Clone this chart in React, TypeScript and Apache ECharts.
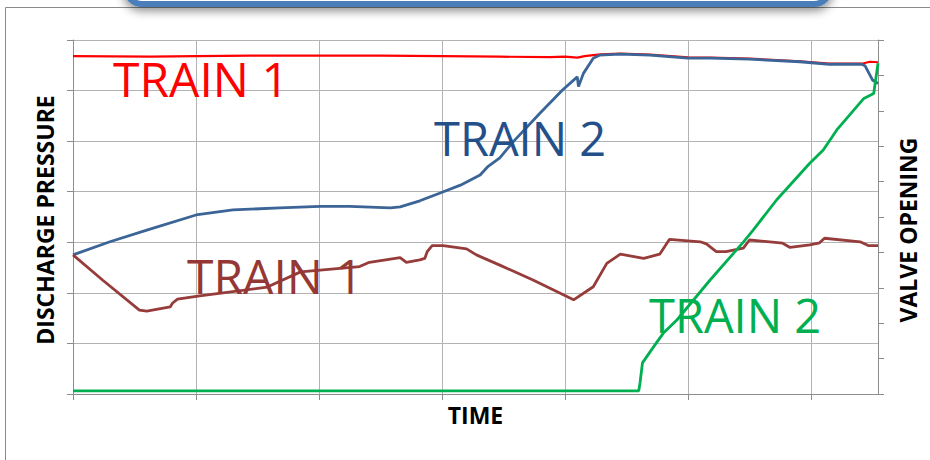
import React, { useEffect, useRef } from "react";
import * as echarts from "echarts";

// Time axis: one grid column = 10 time units; the plot ends part-way into the 7th column.
const TIME_MAX = 65.45;
const PRESSURE_MAX = 70;
const VALVE_MAX = 100;
const timeTicks = [0, 10, 20, 30, 40, 50, 60];

const axisTitles = ["TIME", "DISCHARGE PRESSURE", "VALVE OPENING"];
const seriesNames = ["TRAIN 1", "TRAIN 2"];

// Discharge pressure, train 1 (left axis)
const train1Pressure: [number, number][] = [
  [0, 66.8], [6.3, 66.7], [10, 66.8], [14.4, 66.9], [20, 66.9], [25, 66.9],
  [30, 66.8], [34.7, 66.7], [38.8, 66.6], [40, 66.7], [41, 66.5], [41.6, 66.8],
  [42.3, 67.0], [42.9, 67.15], [44.5, 67.3], [46.9, 67.1], [50, 66.55], [51.8, 66.5],
  [55, 66.3], [59.1, 65.8], [61.5, 65.35], [64.2, 65.35], [64.8, 65.7], [65.45, 65.6],
];

// Discharge pressure, train 2 (left axis)
const train2Pressure: [number, number][] = [
  [0, 27.5], [3, 30.1], [6, 32.4], [10, 35.4], [13, 36.4], [16.8, 36.8],
  [20.1, 37.1], [22.5, 37.1], [25.8, 36.8], [26.6, 37.0], [28.2, 38.2], [29.8, 39.7],
  [31.5, 41.3], [33.1, 43.3], [33.7, 44.9], [34.7, 46.7], [35.8, 49.9], [38.0, 55.6],
  [39.8, 60.1], [41.0, 62.7], [41.1, 60.8], [41.5, 63.4], [42.3, 66.4], [42.8, 67.0],
  [44.5, 67.2], [46.9, 67.0], [50, 66.4], [51.8, 66.4], [55, 66.2], [59.1, 65.7],
  [61.5, 65.2], [64.1, 65.2], [64.4, 64.9], [65.0, 62.1], [65.45, 61.4],
];

// Valve opening, train 1 (right axis)
const train1Valve: [number, number][] = [
  [0, 39.3], [2.4, 32.2], [5.4, 23.7], [6.0, 23.4], [7.9, 24.6], [8.1, 25.7],
  [8.5, 26.8], [10.3, 27.7], [15.8, 30.2], [18.5, 34.5], [20.1, 35.0], [23.3, 36.0],
  [24.1, 37.2], [26.6, 38.5], [27.1, 37.2], [28.2, 37.9], [28.6, 38.3], [28.8, 40.2],
  [29.2, 41.9], [30.1, 41.9], [32.0, 41.0], [32.8, 39.3], [34.7, 36.4], [37.4, 32.2],
  [40.7, 26.6], [42.3, 30.3], [43.4, 36.9], [44.5, 39.5], [46.4, 38.3], [47.7, 39.5],
  [48.5, 43.7], [51.0, 43.0], [51.5, 42.4], [52.3, 40.2], [53.1, 40.2], [54.5, 41.2],
  [55.0, 43.5], [57.7, 42.6], [58.3, 41.4], [59.9, 42.1], [60.7, 42.7], [61.1, 44.0],
  [64.0, 43.0], [64.7, 41.9], [65.45, 41.9],
];

// Valve opening, train 2 (right axis)
const train2Valve: [number, number][] = [
  [0, 0.9], [46.0, 0.9], [46.1, 3.1], [46.3, 8.8], [47.2, 13.3], [48.0, 17.2],
  [49.1, 20.9], [51.8, 32.2], [54.5, 42.9], [55.3, 46.3], [57.2, 54.8], [59.9, 65.2],
  [61.0, 68.9], [62.1, 74.6], [64.3, 83.5], [65.1, 84.9], [65.45, 93.4],
];

const AXIS_COLOR = "#8c8c8c";
const GRID_COLOR = "#b3b3b3";
const TITLE_STYLE = {
  fontFamily: "Open Sans",
  fontWeight: "bold" as const,
  fontSize: 23,
  color: "#000000",
};

export default function App() {
  const ref = useRef<HTMLDivElement>(null);

  useEffect(() => {
    if (!ref.current) return;
    const chart = echarts.init(ref.current, null, { renderer: "svg" });

    const annoText = (text: string, color: string, x: number, y: number, size: number) => ({
      type: "text",
      x,
      y,
      z: 50,
      style: {
        text,
        fill: color,
        fontFamily: "Open Sans",
        fontSize: size,
        align: "left",
        verticalAlign: "middle",
      },
    });

    const option: any = {
      animation: false,
      backgroundColor: "#ffffff",
      grid: { left: 73, right: 52, top: 40, bottom: 66 },
      xAxis: {
        type: "value",
        min: 0,
        max: TIME_MAX,
        interval: 10,
        name: axisTitles[0],
        nameLocation: "middle",
        nameGap: 9,
        nameTextStyle: TITLE_STYLE,
        axisLine: { show: true, lineStyle: { color: AXIS_COLOR, width: 1 } },
        axisTick: {
          show: true,
          length: 6,
          customValues: timeTicks,
          lineStyle: { color: AXIS_COLOR },
        },
        axisLabel: { show: false },
        splitLine: { show: true, lineStyle: { color: GRID_COLOR, width: 1 } },
      },
      yAxis: [
        {
          type: "value",
          position: "left",
          min: 0,
          max: PRESSURE_MAX,
          interval: 10,
          name: axisTitles[1],
          nameLocation: "middle",
          nameRotate: 90,
          nameGap: 17,
          nameTextStyle: { ...TITLE_STYLE, padding: [0, 6, 0, 0] },
          axisLine: { show: true, lineStyle: { color: AXIS_COLOR, width: 1 } },
          axisTick: { show: true, length: 6, lineStyle: { color: AXIS_COLOR } },
          axisLabel: { show: false },
          splitLine: { show: true, lineStyle: { color: GRID_COLOR, width: 1 } },
        },
        {
          type: "value",
          position: "right",
          min: 0,
          max: VALVE_MAX,
          interval: 10,
          name: axisTitles[2],
          nameLocation: "middle",
          nameRotate: 90,
          nameGap: 18,
          nameTextStyle: { ...TITLE_STYLE, padding: [0, 26, 0, 0] },
          axisLine: { show: true, lineStyle: { color: AXIS_COLOR, width: 1 } },
          axisTick: { show: true, length: 6, lineStyle: { color: AXIS_COLOR } },
          axisLabel: { show: false },
          splitLine: { show: false },
        },
      ],
      series: [
        {
          name: "Train 1 discharge pressure",
          type: "line",
          yAxisIndex: 0,
          data: train1Pressure,
          symbol: "none",
          lineStyle: { color: "#ff0000", width: 2.2 },
          itemStyle: { color: "#ff0000" },
          z: 3,
        },
        {
          name: "Train 2 discharge pressure",
          type: "line",
          yAxisIndex: 0,
          data: train2Pressure,
          symbol: "none",
          lineStyle: { color: "#3b6497", width: 2.8 },
          itemStyle: { color: "#3b6497" },
          z: 4,
        },
        {
          name: "Train 1 valve opening",
          type: "line",
          yAxisIndex: 1,
          data: train1Valve,
          symbol: "none",
          lineStyle: { color: "#963c3a", width: 2.8 },
          itemStyle: { color: "#963c3a" },
          z: 5,
        },
        {
          name: "Train 2 valve opening",
          type: "line",
          yAxisIndex: 1,
          data: train2Valve,
          symbol: "none",
          lineStyle: { color: "#00b050", width: 2.8 },
          itemStyle: { color: "#00b050" },
          z: 6,
        },
      ],
      graphic: [
        {
          type: "rect",
          z: -10,
          shape: { x: 5.5, y: 7.5, width: 1000, height: 1000 },
          style: { fill: "none", stroke: "#8a8a8a", lineWidth: 1 },
        },
        {
          type: "rect",
          z: 60,
          shape: { x: 126, y: -40, width: 704, height: 44, r: 16 },
          style: {
            fill: "#ffffff",
            stroke: "#4a7ebb",
            lineWidth: 6,
            shadowBlur: 10,
            shadowOffsetY: 4,
            shadowColor: "rgba(0,0,0,0.45)",
          },
        },
        annoText(seriesNames[0], "#ff0000", 113, 78, 48),
        annoText(seriesNames[1], "#24508a", 434, 138, 47),
        annoText(seriesNames[0], "#953735", 187, 275, 48),
        annoText(seriesNames[1], "#00b050", 649, 315, 47),
      ],
    };

    chart.setOption(option);
    return () => chart.dispose();
  }, []);

  return (
    <div
      ref={ref}
      style={{ position: "absolute", left: 0, top: 0, width: 930, height: 460 }}
    />
  );
}
